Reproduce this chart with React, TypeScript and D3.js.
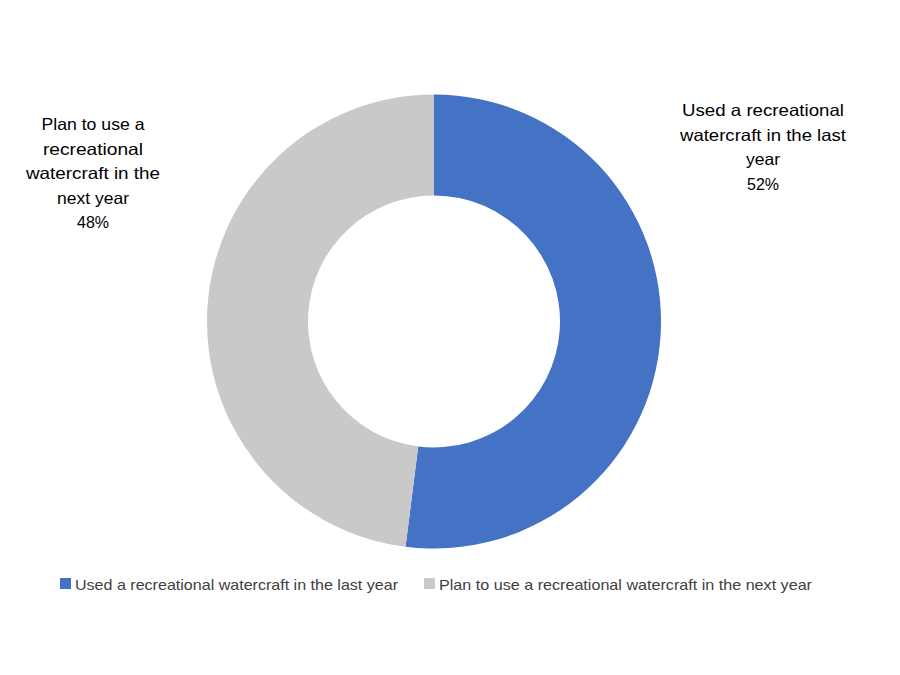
import React from "react";
import * as d3 from "d3";

const categories = [
  "Used a recreational watercraft in the last year",
  "Plan to use a recreational watercraft in the next year",
];
const values = [52, 48];
const colors = ["#4472C4", "#C9C9C9"];
const labelLines = [
  ["Used a recreational", "watercraft in the last", "year", "52%"],
  ["Plan to use a", "recreational", "watercraft in the", "next year", "48%"],
];
const labelWidths = [
  [162, 166, 34, 32],
  [103, 100, 134, 72, 32],
];
const legendWidths = [323, 373];

export default function App() {
  const W = 900, H = 675;
  const cx = 434, cy = 321.5;
  const outerR = 227, innerR = 126;
  const pie = d3.pie<number>().sort(null).value((d) => d);
  const arcs = pie(values);
  const arc = d3.arc<d3.PieArcDatum<number>>().innerRadius(innerR).outerRadius(outerR);

  const labelPos = [
    { x: 763, yLast: 189.5 },
    { x: 93, yLast: 228 },
  ];
  const lh = 24.5;
  const legendX = [60, 424];
  const font = "'Liberation Sans', Arial, sans-serif";

  return (
    <svg
      width={W}
      height={H}
      style={{ position: "absolute", left: 0, top: 0, background: "#fff" }}
    >
      <rect width={W} height={H} fill="#fff" />
      <g transform={`translate(${cx},${cy})`}>
        {arcs.map((a, i) => (
          <path key={i} d={arc(a) || ""} fill={colors[i]} />
        ))}
      </g>
      {labelLines.map((lines, i) => (
        <g key={i} fontFamily={font} fontSize={16.5} fill="#000">
          {lines.map((ln, j) => (
            <text
              key={j}
              x={labelPos[i].x}
              y={labelPos[i].yLast - (lines.length - 1 - j) * lh}
              textAnchor="middle"
              textLength={labelWidths[i][j]}
              lengthAdjust="spacingAndGlyphs"
            >
              {ln}
            </text>
          ))}
        </g>
      ))}
      {categories.map((c, i) => (
        <g key={i}>
          <rect x={legendX[i]} y={578} width={11} height={11} fill={colors[i]} />
          <text
            x={legendX[i] + 15}
            y={590}
            fontFamily={font}
            fontSize={14.5}
            fill="#404040"
            textLength={legendWidths[i]}
            lengthAdjust="spacingAndGlyphs"
          >
            {c}
          </text>
        </g>
      ))}
    </svg>
  );
}
